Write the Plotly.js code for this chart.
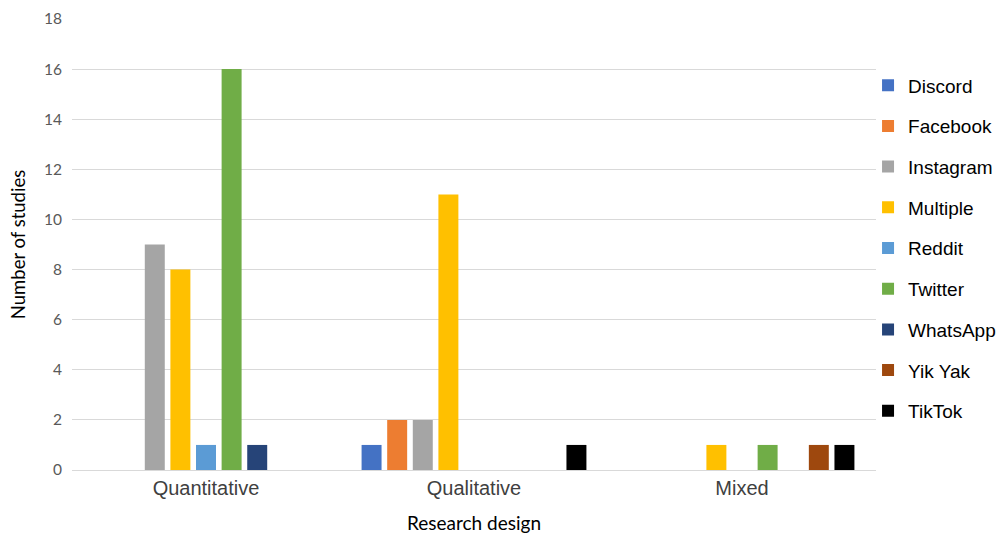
<!DOCTYPE html>
<html>
<head>
<meta charset="utf-8">
<script src="https://cdn.plot.ly/plotly-3.0.1.min.js"></script>
<style>html,body{margin:0;padding:0;background:#fff;}#chart{width:996px;height:534px;}</style>
</head>
<body>
<div id="chart"></div>
<script>
const categories = ["Quantitative", "Qualitative", "Mixed"];
const seriesNames = ["Discord", "Facebook", "Instagram", "Multiple", "Reddit", "Twitter", "WhatsApp", "Yik Yak", "TikTok"];
const discord   = [0, 1, 0];
const facebook  = [0, 2, 0];
const instagram = [9, 2, 0];
const multiple  = [8, 11, 1];
const reddit    = [1, 0, 0];
const twitter   = [16, 0, 1];
const whatsapp  = [1, 0, 0];
const yikyak    = [0, 0, 1];
const tiktok    = [0, 1, 1];
const seriesValues = [discord, facebook, instagram, multiple, reddit, twitter, whatsapp, yikyak, tiktok];
const colors = ["#4472C4", "#ED7D31", "#A5A5A5", "#FFC000", "#5B9BD5", "#70AD47", "#264478", "#9E480E", "#000000"];
const yTicks = [0, 2, 4, 6, 8, 10, 12, 14, 16, 18];

const traces = seriesNames.map((name, i) => ({
  type: "bar",
  name: name,
  x: categories,
  y: seriesValues[i],
  marker: {color: colors[i]},
  legendgroup: "g" + i,
  hoverinfo: "x+y+name"
}));

const layout = {
  width: 996,
  height: 534,
  margin: {l: 72, r: 120, t: 19, b: 64, autoexpand: false},
  paper_bgcolor: "#ffffff",
  plot_bgcolor: "#ffffff",
  barmode: "group",
  bargap: 0.14,
  bargroupgap: 0.22,
  showlegend: true,
  legend: {
    x: 0.9901, xanchor: "left",
    y: 0.895, yanchor: "top",
    font: {family: "Liberation Sans, Arial, sans-serif", size: 19, color: "#000000"},
    traceorder: "grouped",
    tracegroupgap: 13,
    itemwidth: 30,
    bgcolor: "rgba(0,0,0,0)"
  },
  xaxis: {
    type: "category",
    showgrid: false,
    showline: false,
    zeroline: false,
    ticks: "",
    ticklabelstandoff: 4,
    tickfont: {family: "Liberation Sans, Arial, sans-serif", size: 20, color: "#404040"},
    title: {text: "Research design", font: {family: "Lato, Open Sans, sans-serif", size: 19, color: "#000000"}, standoff: 22}
  },
  yaxis: {
    range: [0, 18],
    tickvals: yTicks,
    ticktext: yTicks.map(String),
    showgrid: true,
    gridcolor: "#D9D9D9",
    gridwidth: 1,
    zeroline: true,
    zerolinecolor: "#D9D9D9",
    zerolinewidth: 1,
    showline: false,
    ticks: "",
    ticklabelstandoff: 9,
    tickfont: {family: "Lato, Open Sans, sans-serif", size: 15.5, color: "#595959"},
    title: {text: "Number of studies", font: {family: "Lato, Open Sans, sans-serif", size: 18.5, color: "#000000"}, standoff: 13}
  }
};

Plotly.newPlot("chart", traces, layout, {displayModeBar: false, staticPlot: true});
</script>
</body>
</html>
